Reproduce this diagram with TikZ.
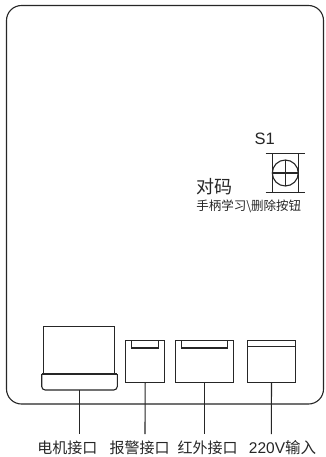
\documentclass[tikz,border=0pt]{standalone}
\usepackage{fontspec}
\setmainfont{Liberation Sans}
\newfontfamily\cjk{Noto Sans CJK SC}
\tikzset{
  x=1pt,y=-1pt,
  ln/.style={line width=1.1pt,draw=black!85},
  box/.style={ln,rectangle,inner sep=0pt,outer sep=0pt,anchor=north west},
  lbl/.style={inner sep=0pt,outer sep=0pt,text=black!85,anchor=center},
}
\begin{document}
\begin{tikzpicture}
\useasboundingbox (0,0) rectangle (325,457);
\fill[white] (0,0) rectangle (325,457);
% housing
\draw[ln,rounded corners=15pt] (6.5,5.5) rectangle (323.5,404);
% switch
\node[box,minimum width=26pt,minimum height=39pt] (sw) at (272.3,153.3) {};
\draw[ln] (265.7,153.3) -- (305,153.3);
\draw[ln] (265.7,192.3) -- (305,192.3);
\node[ln,draw,circle,inner sep=0pt,outer sep=0pt,minimum size=26pt] (knob) at (285.3,173) {};
\draw[ln] (knob.north) -- (knob.south);
\draw[ln] (knob.west) -- (knob.east);
% motor connector
\node[box,minimum width=71pt,minimum height=47.3pt] (motor) at (43.7,326.7) {};
\draw[ln,rounded corners=3.5pt] (41.7,374) -- (41.7,390) -- (117.3,390) -- (117.3,374);
\draw[ln] (41.7,374) -- (117.3,374);
\coordinate (motorb) at (79.3,390);
% alarm
\node[box,minimum width=39pt,minimum height=41.6pt] (alarm) at (125.7,340.7) {};
\node[box,minimum width=27pt,minimum height=7.3pt] (alarmi) at (131.7,340.7) {};
% IR
\node[box,minimum width=57.6pt,minimum height=41.6pt] (ir) at (175.7,340.7) {};
\node[box,minimum width=45.6pt,minimum height=7.3pt] (iri) at (181.7,340.7) {};
% 220V
\node[box,minimum width=48.4pt,minimum height=41.6pt] (pw) at (247.3,340.7) {};
\draw[ln] (pw.west |- 0,346.3) -- (pw.east |- 0,346.3);
% leads
\coordinate (e1) at (79.3,434);
\coordinate (e2) at (145,434);
\coordinate (e3) at (204.3,434);
\coordinate (e4) at (271.3,434);
\draw[ln] (motorb) -- (e1);
\draw[ln] (alarm.south) -- (e2);
\draw[ln] (ir.south) ++(-0.2,0) -- (e3);
\draw[ln] (pw.south) -- (e4);
% texts
\node[lbl,font=\fontsize{16.5}{16}\selectfont] (s1) at (264.7,139) {S1};
\node[lbl,font=\fontsize{18}{18}\selectfont\cjk] (dm) at (214.7,186.7) {对码};
\node[lbl,font=\fontsize{12.5}{14}\selectfont\cjk] (hint) at (248.7,206) {手柄学习\textbackslash 删除按钮};
\node[lbl,font=\fontsize{15}{16}\selectfont\cjk] (l1) at (67.3,448) {电机接口};
\node[lbl,font=\fontsize{15}{16}\selectfont\cjk] (l2) at (139.5,448) {报警接口};
\node[lbl,font=\fontsize{15}{16}\selectfont\cjk] (l3) at (207.5,448) {红外接口};
\node[lbl,font=\fontsize{15.5}{16}\selectfont] (l4) at (282.5,448) {220V{\cjk 输入}};
\end{tikzpicture}
\end{document}
